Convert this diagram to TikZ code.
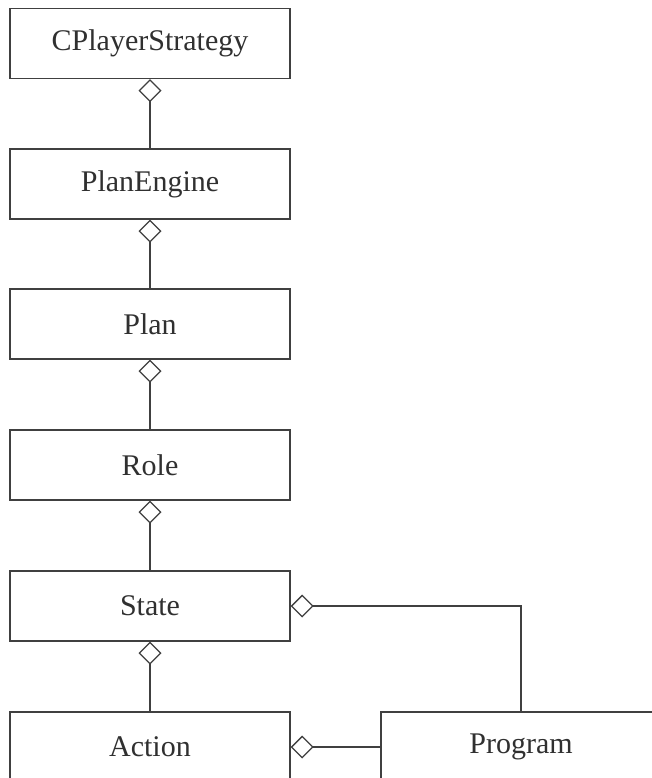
\documentclass[tikz,border=0pt]{standalone}
\usepackage{fontspec}
\setmainfont{Liberation Serif}
\usetikzlibrary{arrows.meta}
\definecolor{ink}{HTML}{404040}
\definecolor{txt}{HTML}{303030}
\begin{document}
\begin{tikzpicture}[x=1pt,y=-1pt,
  cls/.style={draw=ink,line width=1.3pt,fill=white,minimum width=280pt,minimum height=70pt,inner sep=0pt,font=\fontsize{30}{34}\selectfont,text=txt},
  agg/.style={draw=ink,line width=1.3pt,{Diamond[open,fill=white,length=23pt,width=23pt,line width=1.3pt]}-}]
\useasboundingbox (0,0) rectangle (652,778);
\node[cls] (cps) at (150,43.5) {CPlayerStrategy};
\node[cls] (pe) at (150,184) {PlanEngine};
\node[cls] (plan) at (150,324) {Plan};
\node[cls] (role) at (150,465) {Role};
\node[cls] (state) at (150,606) {State};
\node[cls] (action) at (150,747) {Action};
\node[cls] (prog) at (521,747) {Program};
\draw[agg] (cps.south) -- (pe.north);
\draw[agg] (pe.south) -- (plan.north);
\draw[agg] (plan.south) -- (role.north);
\draw[agg] (role.south) -- (state.north);
\draw[agg] (state.south) -- (action.north);
\draw[agg] (state.east) -| (prog.north);
\draw[agg] (action.east) -- (prog.west);
\end{tikzpicture}
\end{document}
